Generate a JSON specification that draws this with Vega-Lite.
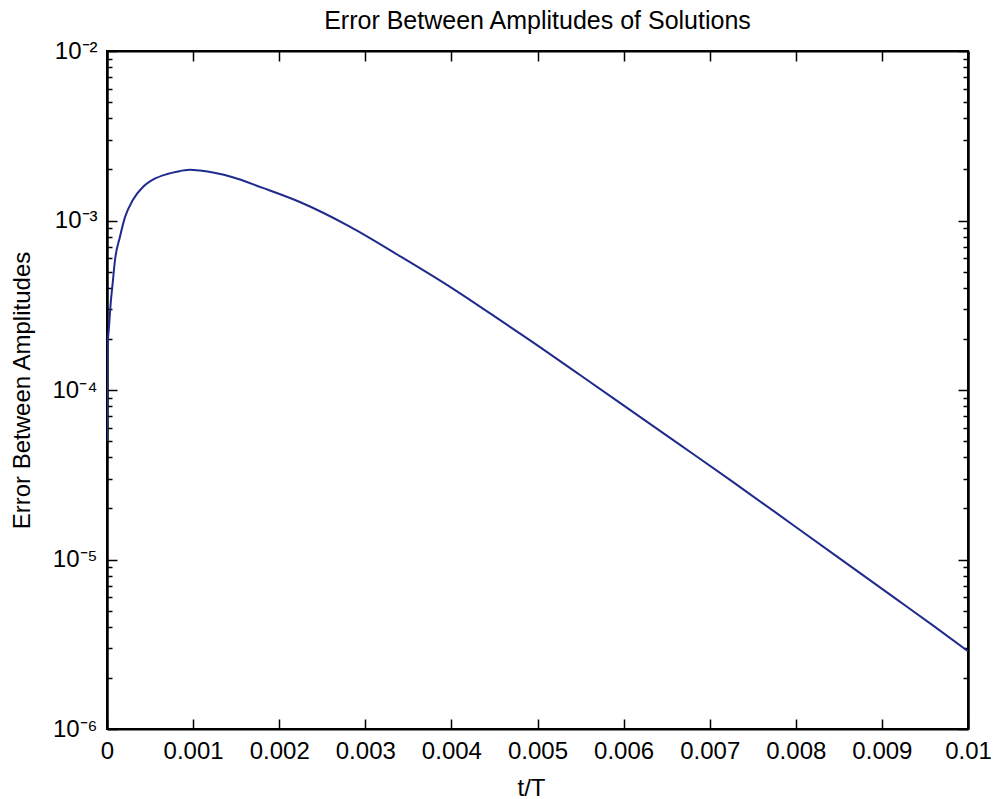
{
  "$schema": "https://vega.github.io/schema/vega-lite/v6.json",
  "width": 861,
  "height": 678,
  "autosize": {"type": "none"},
  "padding": {"left": 107, "top": 51, "right": 26, "bottom": 70},
  "background": "white",
  "title": {
    "text": "Error Between Amplitudes of Solutions",
    "font": "Liberation Sans",
    "fontSize": 25,
    "fontWeight": "normal",
    "color": "black",
    "anchor": "middle",
    "baseline": "alphabetic",
    "offset": -15
  },
  "config": {
    "view": {"stroke": "black", "strokeWidth": 2},
    "axis": {
      "grid": false,
      "labelFont": "Liberation Sans",
      "labelFontSize": 24,
      "labelColor": "black",
      "labelOverlap": false,
      "labelFlush": false,
      "tickColor": "black",
      "tickWidth": 1.5,
      "domainColor": "black",
      "domainWidth": 2,
      "titleFont": "Liberation Sans",
      "titleFontSize": 24,
      "titleFontWeight": "normal",
      "titleColor": "black"
    }
  },
  "data": {
    "values": [
      {"t": 0, "v": 5.0e-5},
      {"t": 0.000003, "v": 1.2e-4},
      {"t": 0.000005, "v": 1.74e-4},
      {"t": 0.000023, "v": 2.35e-4},
      {"t": 0.000043, "v": 3.26e-4},
      {"t": 0.000066, "v": 4.27e-4},
      {"t": 0.000093, "v": 5.85e-4},
      {"t": 0.00015, "v": 8.0e-4},
      {"t": 0.00021, "v": 1.05e-3},
      {"t": 0.0003, "v": 1.32e-3},
      {"t": 0.00042, "v": 1.58e-3},
      {"t": 0.00056, "v": 1.77e-3},
      {"t": 0.0007, "v": 1.88e-3},
      {"t": 0.00081, "v": 1.94e-3},
      {"t": 0.00096, "v": 1.99e-3},
      {"t": 0.00108, "v": 1.97e-3},
      {"t": 0.00146, "v": 1.80e-3},
      {"t": 0.0018, "v": 1.563e-3},
      {"t": 0.00224, "v": 1.285e-3},
      {"t": 0.00282, "v": 9.2e-4},
      {"t": 0.0034, "v": 6.17e-4},
      {"t": 0.00398, "v": 4.07e-4},
      {"t": 0.00445, "v": 2.83e-4},
      {"t": 0.00491, "v": 1.97e-4},
      {"t": 0.00549, "v": 1.23e-4},
      {"t": 0.00607, "v": 7.66e-5},
      {"t": 0.00666, "v": 4.73e-5},
      {"t": 0.00724, "v": 2.94e-5},
      {"t": 0.008, "v": 1.556e-5},
      {"t": 0.0085, "v": 1.023e-5},
      {"t": 0.00918, "v": 5.78e-6},
      {"t": 0.0096, "v": 4.06e-6},
      {"t": 0.01, "v": 2.88e-6}
    ]
  },
  "layer": [
    {
      "mark": {"type": "line", "color": "#1f2b8c", "strokeWidth": 2, "clip": true, "interpolate": "monotone"},
      "encoding": {
        "x": {
          "field": "t", "type": "quantitative",
          "scale": {"domain": [0, 0.01], "nice": false, "zero": false},
          "axis": {
            "orient": "bottom",
            "values": [0, 0.001, 0.002, 0.003, 0.004, 0.005, 0.006, 0.007, 0.008, 0.009, 0.01],
            "format": "~g",
            "tickSize": -10,
            "labelPadding": 20,
            "title": "t/T",
            "titleBaseline": "alphabetic",
            "titleY": 66,
            "titleX": 424
          }
        },
        "y": {
          "field": "v", "type": "quantitative",
          "scale": {"type": "log", "domain": [1e-6, 1e-2], "nice": false},
          "axis": {
            "orient": "left",
            "values": [1e-6, 1e-5, 1e-4, 1e-3, 1e-2],
            "labelExpr": "'10' + (datum.value < 5e-6 ? '⁻⁶' : datum.value < 5e-5 ? '⁻⁵' : datum.value < 5e-4 ? '⁻⁴' : datum.value < 5e-3 ? '⁻³' : '⁻²')",
            "tickSize": -10,
            "labelPadding": 20,
            "title": "Error Between Amplitudes",
            "titleAngle": -90,
            "titleBaseline": "middle",
            "titleX": -85,
            "titleY": 339
          }
        }
      }
    },
    {
      "mark": {"type": "line", "opacity": 0},
      "encoding": {
        "x": {
          "field": "t", "type": "quantitative",
          "axis": {
            "orient": "top",
            "values": [0, 0.001, 0.002, 0.003, 0.004, 0.005, 0.006, 0.007, 0.008, 0.009, 0.01],
            "labels": false,
            "tickSize": -10,
            "title": null
          }
        },
        "y": {
          "field": "v", "type": "quantitative",
          "axis": {
            "orient": "right",
            "values": [1e-6, 1e-5, 1e-4, 1e-3, 1e-2],
            "labels": false,
            "tickSize": -10,
            "title": null
          }
        }
      }
    },
    {
      "mark": {"type": "line", "opacity": 0},
      "encoding": {
        "x": {"field": "t", "type": "quantitative", "axis": null},
        "y": {
          "field": "v", "type": "quantitative",
          "axis": {
            "orient": "left",
            "values": [2e-6, 3e-6, 4e-6, 5e-6, 6e-6, 7e-6, 8e-6, 9e-6, 2e-5, 3e-5, 4e-5, 5e-5, 6e-5, 7e-5, 8e-5, 9e-5, 2e-4, 3e-4, 4e-4, 5e-4, 6e-4, 7e-4, 8e-4, 9e-4, 2e-3, 3e-3, 4e-3, 5e-3, 6e-3, 7e-3, 8e-3, 9e-3],
            "labels": false,
            "tickSize": -5,
            "title": null
          }
        }
      }
    },
    {
      "mark": {"type": "line", "opacity": 0},
      "encoding": {
        "x": {"field": "t", "type": "quantitative", "axis": null},
        "y": {
          "field": "v", "type": "quantitative",
          "axis": {
            "orient": "right",
            "values": [2e-6, 3e-6, 4e-6, 5e-6, 6e-6, 7e-6, 8e-6, 9e-6, 2e-5, 3e-5, 4e-5, 5e-5, 6e-5, 7e-5, 8e-5, 9e-5, 2e-4, 3e-4, 4e-4, 5e-4, 6e-4, 7e-4, 8e-4, 9e-4, 2e-3, 3e-3, 4e-3, 5e-3, 6e-3, 7e-3, 8e-3, 9e-3],
            "labels": false,
            "tickSize": -5,
            "title": null
          }
        }
      }
    }
  ],
  "resolve": {"axis": {"x": "independent", "y": "independent"}}
}
